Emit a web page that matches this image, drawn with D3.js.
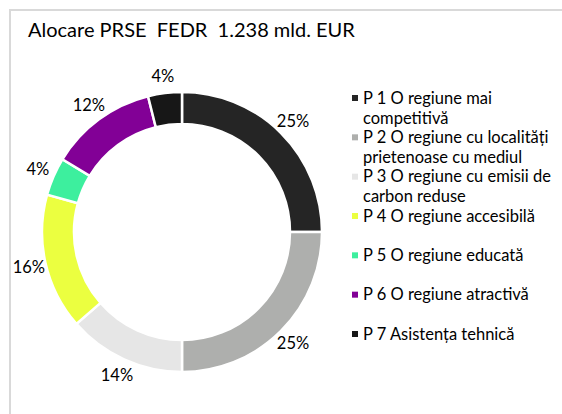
<!DOCTYPE html>
<html>
<head>
<meta charset="utf-8">
<script src="https://cdn.jsdelivr.net/npm/d3@7"></script>
<style>
  body { margin: 0; background: #fff; }
  text { font-family: Lato, "Open Sans", sans-serif; fill: #000; white-space: pre; }
</style>
</head>
<body>
<svg id="chart"></svg>
<script>
// chart data
const categories = [
  "P 1 O regiune mai|competitivă",
  "P 2 O regiune cu localități|prietenoase cu mediul",
  "P 3 O regiune cu emisii de|carbon reduse",
  "P 4 O regiune accesibilă",
  "P 5 O regiune educată",
  "P 6 O regiune atractivă",
  "P 7 Asistența tehnică"
];
const shares = [25.0, 25.0, 13.6, 15.7, 4.4, 12.4, 3.9];
const colors = ["#252525", "#aeafad", "#e6e6e6", "#ebff40", "#3def9e", "#820096", "#171717"];
const title = "Alocare PRSE  FEDR  1.238 mld. EUR";

const width = 562, height = 414;
const svg = d3.select("#chart").attr("width", width).attr("height", height);

// outer frame
svg.append("rect")
  .attr("x", 10).attr("y", 10)
  .attr("width", width).attr("height", height)
  .style("fill", "#fff")
  .style("stroke", "#d9d9d9")
  .style("stroke-width", 2);

svg.append("text")
  .attr("x", 28).attr("y", 37)
  .attr("xml:space", "preserve")
  .style("font-size", "20px")
  .text(title);

// donut
const cx = 182, cy = 232;
const outerR = 140, innerR = 108;

const pie = d3.pie().sort(null).value(d => d);
const arcs = pie(shares);
const arc = d3.arc().innerRadius(innerR).outerRadius(outerR);
const labelArc = d3.arc().innerRadius(157).outerRadius(157);

const g = svg.append("g").attr("transform", `translate(${cx},${cy})`);

g.selectAll(".slice")
  .data(arcs)
  .enter()
  .append("path")
  .attr("class", "slice")
  .attr("d", arc)
  .style("fill", (d, i) => colors[i])
  .style("stroke", "#fff")
  .style("stroke-width", 2.5);

g.selectAll(".pct")
  .data(arcs)
  .enter()
  .append("text")
  .attr("class", "pct")
  .attr("x", d => labelArc.centroid(d)[0])
  .attr("y", d => labelArc.centroid(d)[1])
  .attr("dy", "0.35em")
  .style("font-size", "16.5px")
  .style("text-anchor", "middle")
  .text(d => d3.format(".0f")(d.value) + "%");

// legend
const legendY = d3.scalePoint()
  .domain(categories)
  .range([98, 334]);

const items = svg.selectAll(".legend-item")
  .data(categories)
  .enter()
  .append("g")
  .attr("class", "legend-item")
  .attr("transform", d => `translate(352,${legendY(d)})`);

items.append("rect")
  .attr("x", 0).attr("y", -3)
  .attr("width", 6).attr("height", 6)
  .style("fill", (d, i) => colors[i]);

items.append("text")
  .style("font-size", "16.5px")
  .selectAll("tspan")
  .data(d => d.split("|"))
  .enter()
  .append("tspan")
  .attr("x", 11)
  .attr("dy", (d, i) => i === 0 ? "0.35em" : "20px")
  .text(d => d);
</script>
</body>
</html>
